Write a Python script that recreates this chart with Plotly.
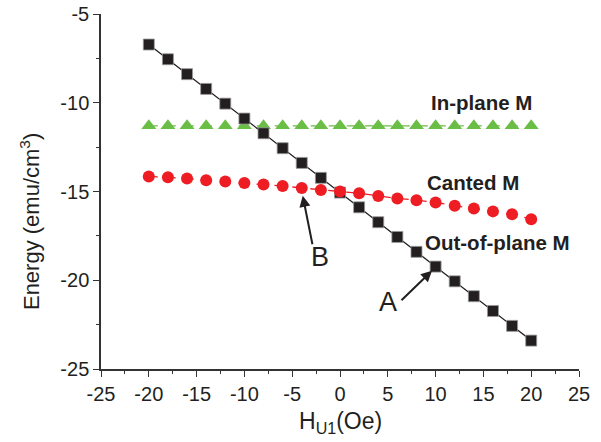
import plotly.graph_objects as go

h_field = [-20, -18, -16, -14, -12, -10, -8, -6, -4, -2, 0, 2, 4, 6, 8, 10, 12, 14, 16, 18, 20]
e_out_of_plane = [-6.72, -7.55, -8.39, -9.22, -10.05, -10.89, -11.72, -12.56, -13.39, -14.23,
                  -15.06, -15.89, -16.73, -17.56, -18.40, -19.23, -20.06, -20.90, -21.73, -22.57, -23.40]
e_in_plane = [-11.3] * 21
e_canted = [-14.15, -14.20, -14.27, -14.37, -14.44, -14.52, -14.60, -14.69, -14.80, -14.92,
            -15.00, -15.10, -15.25, -15.39, -15.49, -15.62, -15.80, -15.96, -16.12, -16.28, -16.56]

x_ticks = [-25, -20, -15, -10, -5, 0, 5, 10, 15, 20, 25]
y_ticks = [-25, -20, -15, -10, -5]

FONT = "Liberation Sans, Arial, sans-serif"
BLACK = "#231f20"
RED = "#ee1d23"
GREEN = "#6abd45"
TXT = "#231f20"

fig = go.Figure()
fig.add_trace(go.Scatter(x=h_field, y=e_in_plane, mode="lines+markers",
                         line=dict(color=GREEN, width=1.3, dash="dash"),
                         marker=dict(symbol="triangle-up", size=13, color=GREEN,
                                     line=dict(width=0)), showlegend=False))
fig.add_trace(go.Scatter(x=h_field, y=e_out_of_plane, mode="lines+markers",
                         line=dict(color=BLACK, width=1.3),
                         marker=dict(symbol="square", size=11, color=BLACK,
                                     line=dict(width=0.8, color="#9a9a9a")), showlegend=False))
fig.add_trace(go.Scatter(x=h_field, y=e_canted, mode="lines+markers",
                         line=dict(color=RED, width=1.3, dash="dash"),
                         marker=dict(symbol="circle", size=12, color=RED,
                                     line=dict(width=0)), showlegend=False))

axis_common = dict(showgrid=False, zeroline=False, showline=True, linecolor="#333333",
                   linewidth=1.5, ticks="outside", ticklen=6, tickwidth=1.3,
                   tickcolor="#333333", tickfont=dict(family=FONT, size=20, color=TXT),
                   minor=dict(ticks="outside", ticklen=3, tickwidth=1.3, tickcolor="#333333"),
                   mirror=False, automargin=False)

fig.update_xaxes(range=[-25, 25], tickvals=x_ticks, ticktext=[str(v) for v in x_ticks],
                 minor_dtick=2.5, minor_tick0=0, **axis_common)
fig.update_yaxes(range=[-25, -5], tickvals=y_ticks, ticktext=[str(v) for v in y_ticks],
                 minor_dtick=2.5, minor_tick0=0, **axis_common)

ann = []
lab_font = dict(family=FONT, size=20.5, color=TXT)
ann.append(dict(x=14.85, y=-10.0, text="<b>In-plane M</b>", showarrow=False, font=lab_font))
ann.append(dict(x=13.9, y=-14.5, text="<b>Canted M</b>", showarrow=False, font=lab_font))
ann.append(dict(x=16.5, y=-17.9, text="<b>Out-of-plane M</b>", showarrow=False, font=lab_font))
ab_font = dict(family=FONT, size=27, color=TXT)
ann.append(dict(x=-2.1, y=-18.67, text="B", showarrow=False, font=ab_font))
ann.append(dict(x=5.0, y=-21.2, text="A", showarrow=False, font=ab_font))
# arrows
ann.append(dict(x=-3.9, y=-15.24, ax=10, ay=50, text="", showarrow=True, arrowhead=2,
                arrowsize=1.1, arrowwidth=2, arrowcolor=TXT))
ann.append(dict(x=9.62, y=-19.46, ax=-32, ay=31, text="", showarrow=True, arrowhead=2,
                arrowsize=1.1, arrowwidth=2, arrowcolor=TXT))
# axis titles
ann.append(dict(xref="paper", yref="paper", x=-0.1485, y=0.414, text="Energy (emu/cm<sup>3</sup>)",
                textangle=-90, showarrow=False, font=dict(family=FONT, size=22, color=TXT),
                xanchor="center", yanchor="middle"))
ann.append(dict(xref="paper", yref="paper", x=0.5, y=-0.15, text="H<sub>U1</sub>(Oe)",
                showarrow=False, font=dict(family=FONT, size=23, color=TXT),
                xanchor="center", yanchor="middle"))

fig.update_layout(template="none", width=601, height=442,
                  margin=dict(l=101, r=22, t=14, b=73, pad=0),
                  paper_bgcolor="white", plot_bgcolor="white", annotations=ann,
                  showlegend=False)

fig.write_html("out.html", config={"displayModeBar": False},
               post_script="document.body.style.margin='0';document.body.style.padding='0';")
